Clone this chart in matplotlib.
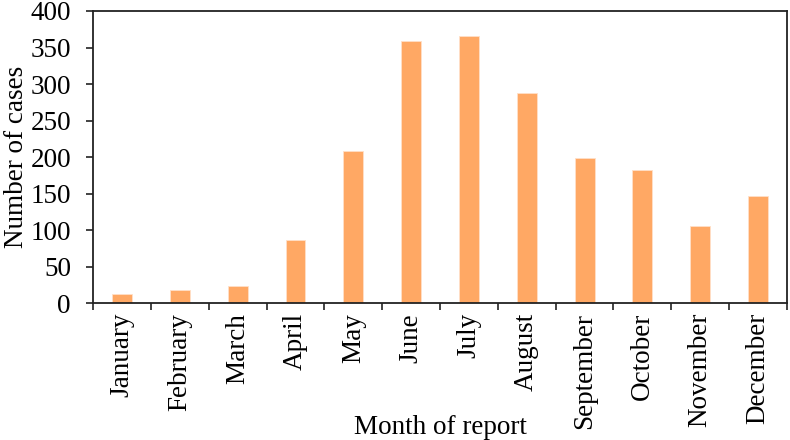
import numpy as np
import matplotlib
matplotlib.use("Agg")
import matplotlib.pyplot as plt

plt.rcParams["font.family"] = ["Liberation Serif", "DejaVu Serif"]

months = ["January", "February", "March", "April", "May", "June",
          "July", "August", "September", "October", "November", "December"]
cases = [13, 18, 24, 86, 209, 359, 366, 288, 199, 182, 105, 147]

BAR_COLOR = "#FFA864"
FS = 19.5

fig = plt.figure(figsize=(7.9, 4.4), dpi=100)
ax = fig.add_axes([0.118, 0.311, 0.878, 0.664])

x = np.arange(len(months))
ax.bar(x, cases, width=0.345, color=BAR_COLOR, edgecolor="#FFE0C8", linewidth=0.6, zorder=2)

ax.set_xlim(-0.5, len(months) - 0.5)
ax.set_ylim(0, 400)
ax.set_yticks(np.arange(0, 401, 50))

# ticks at category boundaries, labels at centres
ax.set_xticks(np.arange(-0.5, len(months), 1.0))
ax.set_xticklabels([])
ax.set_xticks(x, minor=True)
ax.set_xticklabels(months, minor=True, rotation=90, fontsize=FS)
ax.tick_params(axis="x", which="major", direction="out", length=5, width=1.2, color="#222222")
ax.tick_params(axis="x", which="minor", length=0, pad=7)
ax.tick_params(axis="y", direction="out", length=5, width=1.2, pad=11,
               labelsize=FS, color="#222222")

for s in ax.spines.values():
    s.set_linewidth(1.3)
    s.set_color("#222222")

ax.set_ylabel("Number of cases", fontsize=FS)
ax.yaxis.set_label_coords(-0.093, 0.5)
ax.set_xlabel("Month of report", fontsize=FS)
ax.xaxis.set_label_coords(0.5, -0.382)

fig.savefig("out.png", dpi=100)
